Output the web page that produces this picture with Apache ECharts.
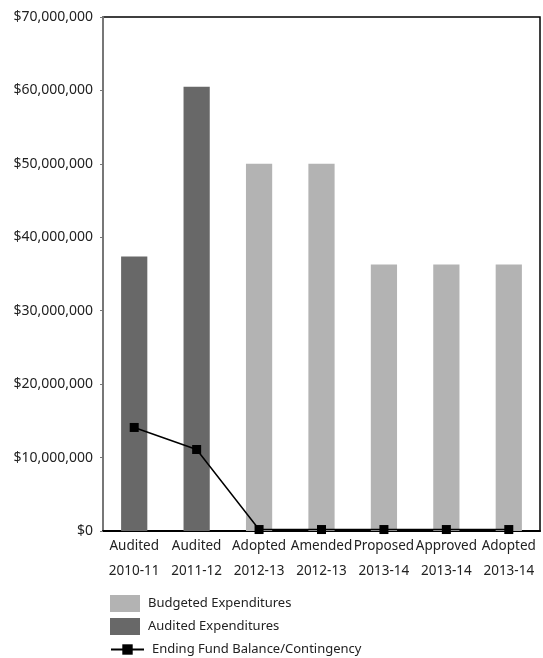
<!DOCTYPE html>
<html><head><meta charset="utf-8">
<script src="https://cdn.jsdelivr.net/npm/echarts@6/dist/echarts.min.js"></script>
<style>html,body{margin:0;padding:0;background:#fff}#c{width:543px;height:658px}</style>
</head><body><div id="c"></div>
<script>
var categories = ['Audited\n2010-11','Audited\n2011-12','Adopted\n2012-13','Amended\n2012-13','Proposed\n2013-14','Approved\n2013-14','Adopted\n2013-14'];
var budgeted = [null, null, 50000000, 50000000, 36300000, 36300000, 36300000];
var audited = [37400000, 60500000, null, null, null, null, null];
var fundBalance = [14100000, 11100000, 200000, 200000, 200000, 200000, 200000];
var yTicksMax = 70000000;
var yInterval = 10000000;

var font = 'Noto Sans';
var chart = echarts.init(document.getElementById('c'));
chart.setOption({
  animation: false,
  textStyle: {fontFamily: font},
  grid: {left: 103, top: 17, right: 3, bottom: 127, show: true, borderColor: '#000', borderWidth: 1.5, backgroundColor: 'transparent'},
  legend: [{
    orient: 'vertical', left: 110, top: 595, padding: 0, itemWidth: 30, itemHeight: 17, itemGap: 6, height: 60,
    icon: 'rect',
    textStyle: {fontFamily: font, fontSize: 13, color: '#222', padding: [0, 0, 0, 3]},
    data: ['Budgeted Expenditures', 'Audited Expenditures']
  }, {
    orient: 'vertical', left: 110, top: 643, padding: 0, itemWidth: 33, itemHeight: 13, itemGap: 6,
    textStyle: {fontFamily: font, fontSize: 13, color: '#222', padding: [0, 0, 0, 3]},
    data: ['Ending Fund Balance/Contingency']
  }],
  xAxis: {
    type: 'category', data: categories,
    axisLine: {lineStyle: {color: '#000', width: 2}},
    axisTick: {show: false},
    axisLabel: {interval: 0, color: '#222', fontSize: 13.5, lineHeight: 25, margin: 3}
  },
  yAxis: {
    type: 'value', min: 0, max: yTicksMax, interval: yInterval,
    axisLine: {show: true, lineStyle: {color: '#777', width: 2}},
    axisTick: {show: true, length: 3, lineStyle: {color: '#777'}},
    splitLine: {show: false},
    axisLabel: {color: '#222', fontSize: 14, margin: 10, formatter: function(v){return '$' + v.toLocaleString('en-US');}}
  },
  series: [
    {name: 'Budgeted Expenditures', type: 'bar', stack: 'exp', data: budgeted, barWidth: '42%', itemStyle: {color: '#b3b3b3'}},
    {name: 'Audited Expenditures', type: 'bar', stack: 'exp', data: audited, barWidth: '42%', itemStyle: {color: '#686868'}},
    {name: 'Ending Fund Balance/Contingency', type: 'line', data: fundBalance, symbol: 'rect', symbolSize: 9,
     itemStyle: {color: '#000'}, lineStyle: {color: '#000', width: 1.5}, z: 5}
  ]
});
</script></body></html>
